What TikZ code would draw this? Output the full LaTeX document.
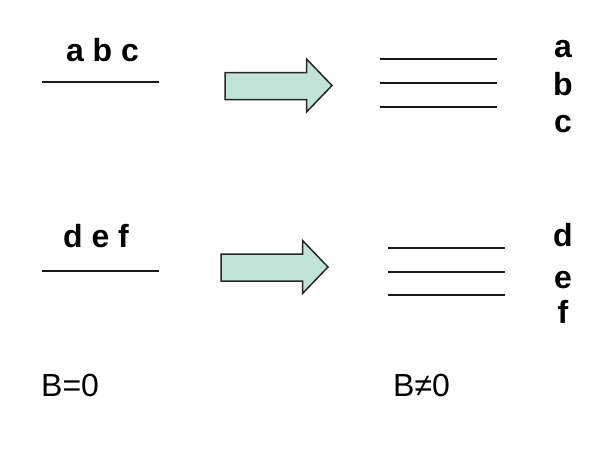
\documentclass[tikz,border=0pt]{standalone}
\usepackage{fontspec}
\setmainfont{Liberation Sans}
\definecolor{arrowfill}{HTML}{C2E3D7}
\begin{document}
\begin{tikzpicture}[x=1pt,y=-1pt,
  lbl/.style={anchor=base,inner sep=0pt,font=\bfseries\fontsize{32}{35}\selectfont},
  blbl/.style={anchor=base west,inner sep=0pt,font=\fontsize{32}{35}\selectfont},
  lvl/.style={line width=2.8pt,black!90},
  bigarrow/.style={draw=black!85,line width=1.5pt,fill=arrowfill,line join=miter}]
\useasboundingbox (0,0) rectangle (598,448);
% top left
\draw[lvl] (42,82) -- (159,82);
\node[lbl] (abc) at (102.5,61) {a b c};
% top arrow
\draw[bigarrow] (225,72.5) -- (306.5,72.5) -- (306.5,59) -- (332,85.5) -- (306.5,112) -- (306.5,99.5) -- (225,99.5) -- cycle;
% top right
\draw[lvl] (380,59) -- (497,59);
\draw[lvl] (380,83) -- (497,83);
\draw[lvl] (380,107) -- (497,107);
\node[lbl] (a) at (563,57) {a};
\node[lbl] (b) at (563,95) {b};
\node[lbl] (c) at (563,132) {c};
% bottom left
\draw[lvl] (42,271) -- (159,271);
\node[lbl] (def) at (96,247) {d e f};
% bottom arrow
\draw[bigarrow] (221,254) -- (302.5,254) -- (302.5,240.5) -- (328,267) -- (302.5,293.5) -- (302.5,281) -- (221,281) -- cycle;
% bottom right
\draw[lvl] (388,248) -- (505,248);
\draw[lvl] (388,272) -- (505,272);
\draw[lvl] (388,295) -- (505,295);
\node[lbl] (d) at (563,246) {d};
\node[lbl] (e) at (563,288) {e};
\node[lbl] (f) at (563,323) {f};
% labels
\node[blbl] (b0) at (41,396) {B=0};
\node[blbl] (bn0) at (393,396) {B≠0};
\end{tikzpicture}
\end{document}
